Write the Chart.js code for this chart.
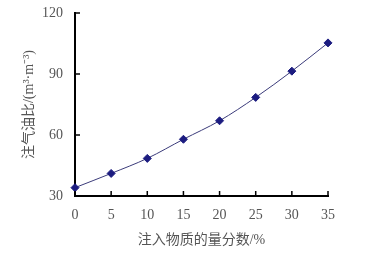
<!DOCTYPE html>
<html>
<head>
<meta charset="utf-8">
<script src="https://cdn.jsdelivr.net/npm/chart.js@4/dist/chart.umd.min.js"></script>
<style>
  html, body { margin: 0; padding: 0; background: #fff; }
  #wrap { width: 387px; height: 255px; }
</style>
</head>
<body>
<div id="wrap"><canvas id="myChart"></canvas></div>
<script>
"use strict";

// data
const fractions = [0, 5, 10, 15, 20, 25, 30, 35];
const gasOilRatio = [34.1, 41.1, 48.5, 57.9, 67.0, 78.5, 91.4, 105.3];
const yTicks = [30, 60, 90, 120];

const serif = "'Liberation Serif', 'DejaVu Serif', serif";
const mixed = "'Liberation Serif', 'Noto Sans CJK SC', serif";

// small tick marks pointing into the plot, like the original
const innerTicks = {
  id: "innerTicks",
  afterDraw(chart) {
    const c = chart.ctx;
    const xs = chart.scales.x;
    const ys = chart.scales.y;
    const area = chart.chartArea;
    c.save();
    c.strokeStyle = "#000";
    c.lineWidth = 1.5;
    c.beginPath();
    fractions.forEach((v) => {
      const px = xs.getPixelForValue(v);
      c.moveTo(px, area.bottom);
      c.lineTo(px, area.bottom - 5);
    });
    yTicks.forEach((v) => {
      const py = ys.getPixelForValue(v);
      c.moveTo(area.left, py);
      c.lineTo(area.left + 5, py);
    });
    c.stroke();
    c.restore();
  },
};

new Chart(document.getElementById("myChart"), {
  type: "line",
  data: {
    datasets: [
      {
        data: fractions.map((x, i) => ({ x: x, y: gasOilRatio[i] })),
        borderColor: "#3b3b7a",
        borderWidth: 1,
        cubicInterpolationMode: "monotone",
        pointStyle: "rectRot",
        pointRadius: 4,
        pointBackgroundColor: "#1c1c80",
        pointBorderColor: "#1c1c80",
        clip: false,
      },
    ],
  },
  options: {
    responsive: true,
    maintainAspectRatio: false,
    animation: false,
    layout: { padding: { left: 0, right: 59, top: 13, bottom: 0 } },
    plugins: {
      legend: { display: false },
      tooltip: { enabled: false },
    },
    scales: {
      x: {
        type: "linear",
        min: 0,
        max: 35,
        afterFit(scale) {
          scale.height = 59;
        },
        afterBuildTicks(scale) {
          scale.ticks = fractions.map((v) => ({ value: v }));
        },
        grid: { display: false },
        border: { display: true, color: "#000", width: 2 },
        ticks: {
          padding: 3,
          color: "#555",
          font: { family: serif, size: 14 },
        },
        title: {
          display: true,
          text: "注入物质的量分数/%",
          color: "#555",
          font: { family: mixed, size: 14 },
          padding: { top: 0, bottom: 6 },
        },
      },
      y: {
        min: 30,
        max: 120,
        afterFit(scale) {
          scale.width = 75;
        },
        afterBuildTicks(scale) {
          scale.ticks = yTicks.map((v) => ({ value: v }));
        },
        grid: { display: false },
        border: { display: true, color: "#000", width: 2 },
        ticks: {
          padding: 4,
          color: "#555",
          font: { family: serif, size: 14 },
        },
        title: {
          display: true,
          text: "注气油比/(m³·m⁻³)",
          color: "#555",
          font: { family: mixed, size: 14 },
          padding: { top: 21, bottom: 0 },
        },
      },
    },
  },
  plugins: [innerTicks],
});
</script>
</body>
</html>
